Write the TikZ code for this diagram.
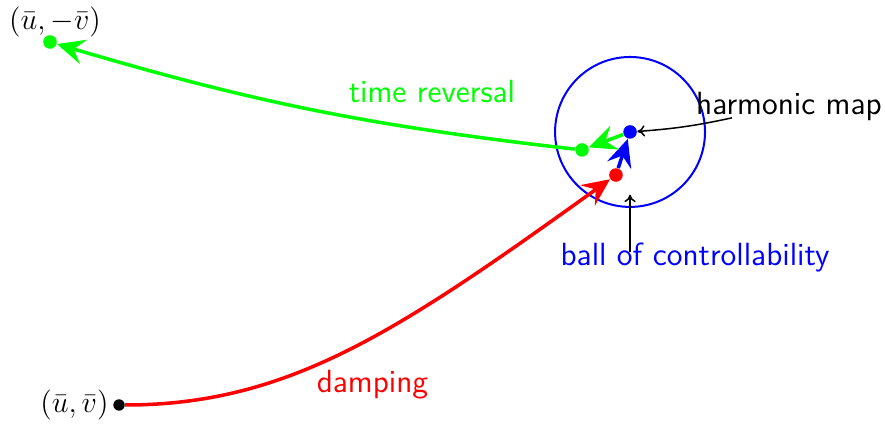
\documentclass[tikz,border=0pt]{standalone}
\usetikzlibrary{arrows.meta}
\begin{document}
\begin{tikzpicture}[font=\sffamily\fontsize{12.8}{15}\selectfont,
    dot/.style={circle,fill=#1,inner sep=0pt,minimum size=0.19cm},
    big/.style={line width=1.4pt,-{Stealth[length=11pt,width=10pt,inset=4pt]}},
    thin arrow/.style={semithick,-{To[length=3pt,width=4.5pt]}}]
        \useasboundingbox (0,0) rectangle (12.395,5.994);
        % points
        \node[dot=black,minimum size=0.16cm] (start) at (1.667,0.322) {};
        \node[dot=red] (damped) at (8.627,3.543) {};
        \node[dot=blue] (harm) at (8.824,4.146) {};
        \node[dot=green] (rev) at (8.151,3.894) {};
        \node[dot=green] (end) at (0.700,5.406) {};
        \node[left,inner sep=1.5pt] (slab) at (start.west) {$(\bar u,\bar v)$};
        \node (elab) at (0.770,5.690) {$(\bar u,-\bar v)$};
        % ball
        \draw[blue,thick] (harm) circle (1.05);
        % trajectories
        \draw[big,red] (start) .. controls (4.062,0.322) and (5.602,1.373) .. (damped);
        \draw[big,blue] (damped) -- (harm);
        \draw[big,green] (harm) -- (rev);
        \draw[big,green] (rev) to[bend left=5] (end);
        % labels
        \node[red] (dlab) at (5.217,0.602) {damping};
        \node[green] (tlab) at (6.05,4.706) {time reversal};
        \node (hlab) at (11.05,4.503) {harmonic map};
        \node[blue] (blab) at (9.734,2.388) {ball of controllability};
        \draw[thin arrow] ([xshift=-0.80cm,yshift=-0.16cm]hlab.center) to[bend left=4] (harm);
        \draw[thin arrow] ([xshift=-0.91cm,yshift=0.07cm]blab.center) -- ++(0,0.81);
\end{tikzpicture}
\end{document}
